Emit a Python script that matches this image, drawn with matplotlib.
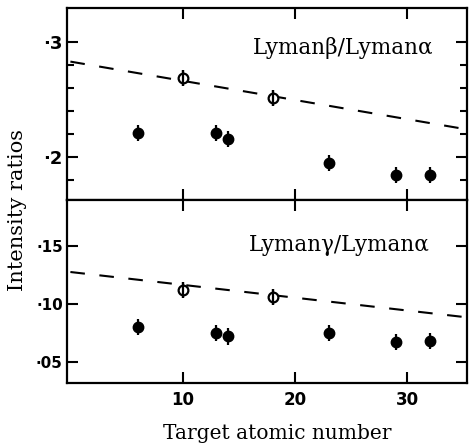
import numpy as np
import matplotlib
matplotlib.use("Agg")
import matplotlib.pyplot as plt
from matplotlib.ticker import FixedLocator

# ---------------------------------------------------------
# Data
# ---------------------------------------------------------
z_filled = [6, 13, 14, 23, 29, 32]
z_open = [10, 18]

beta_filled = [0.221, 0.221, 0.216, 0.195, 0.184, 0.184]
beta_open = [0.269, 0.251]
gamma_filled = [0.080, 0.075, 0.072, 0.075, 0.067, 0.068]
gamma_open = [0.112, 0.106]

err_filled = [0.007, 0.007, 0.007, 0.007, 0.007, 0.007]
err_open = [0.007, 0.007]

theory_z = [0, 35.3]
beta_theory = [0.283, 0.224]
gamma_theory = [0.1276, 0.0885]

x_ticks = [10, 20, 30]
x_ticklabels = ["10", "20", "30"]
beta_ticks = [0.2, 0.3]
beta_ticklabels = ["·2", "·3"]
beta_minor = [0.18, 0.22, 0.24, 0.26, 0.28]
gamma_ticks = [0.05, 0.10, 0.15]
gamma_ticklabels = ["·05", "·10", "·15"]

SERIF = "DejaVu Serif"
XTICKFONT = dict(family="DejaVu Sans", weight="bold", size=12)
BETAFONT = dict(family="DejaVu Sans", weight="bold", size=13)
GAMMAFONT = dict(family="DejaVu Sans", weight="bold", size=11)

fig = plt.figure(figsize=(4.70, 4.47), dpi=100)
left, right = 0.1426, 0.9936
mid, top, bottom = 0.5526, 0.982, 0.1432
ax1 = fig.add_axes([left, mid, right - left, top - mid])
ax2 = fig.add_axes([left, bottom, right - left, mid - bottom], sharex=ax1)

panels = [
    (ax1, beta_filled, beta_open, beta_theory, (0.1626, 0.3296)),
    (ax2, gamma_filled, gamma_open, gamma_theory, (0.0319, 0.1897)),
]

for ax, yf, yo, yt, ylim in panels:
    ax.plot(theory_z, yt, color="black", lw=1.5, dashes=(7, 7))
    ax.errorbar(z_filled, yf, yerr=err_filled, fmt="o", color="black",
                ms=7.5, elinewidth=1.6, capsize=0)
    ax.errorbar(z_open, yo, yerr=err_open, fmt="o", color="black",
                mfc="white", mec="black", mew=1.6, ms=7,
                elinewidth=1.6, capsize=0, zorder=3)
    ax.errorbar(z_open, yo, yerr=err_open, fmt="none", ecolor="black",
                elinewidth=1.6, capsize=0, zorder=4)
    ax.set_ylim(*ylim)
    for s in ax.spines.values():
        s.set_linewidth(1.6)
    ax.tick_params(which="both", direction="in", left=True, right=True,
                   top=True, bottom=True, width=1.5)
    ax.tick_params(which="major", length=8)
    ax.tick_params(which="minor", length=5)

ax1.set_xlim(-0.3, 35.3)
ax1.xaxis.set_major_locator(FixedLocator(x_ticks))
ax1.tick_params(axis="x", labelbottom=False)
ax2.set_xticks(x_ticks)
ax2.set_xticklabels(x_ticklabels, fontdict=XTICKFONT)
ax2.tick_params(axis="x", pad=6)

ax1.set_yticks(beta_ticks)
ax1.set_yticklabels(beta_ticklabels, fontdict=BETAFONT)
ax1.yaxis.set_minor_locator(FixedLocator(beta_minor))
ax2.set_yticks(gamma_ticks)
ax2.set_yticklabels(gamma_ticklabels, fontdict=GAMMAFONT)
ax1.tick_params(axis="y", pad=3)
ax2.tick_params(axis="y", pad=3)

ax1.text(0.69, 0.79, "Lymanβ/Lymanα", transform=ax1.transAxes,
         ha="center", va="center", family=SERIF, fontsize=15.5)
ax2.text(0.68, 0.755, "Lymanγ/Lymanα", transform=ax2.transAxes,
         ha="center", va="center", family=SERIF, fontsize=15.5)

fig.text(0.59, 0.031, "Target atomic number", ha="center", va="center",
         family=SERIF, fontsize=14.5)
fig.text(0.037, 0.53, "Intensity ratios", ha="center", va="center",
         rotation=90, family=SERIF, fontsize=15)

fig.savefig("out.png", dpi=100)
